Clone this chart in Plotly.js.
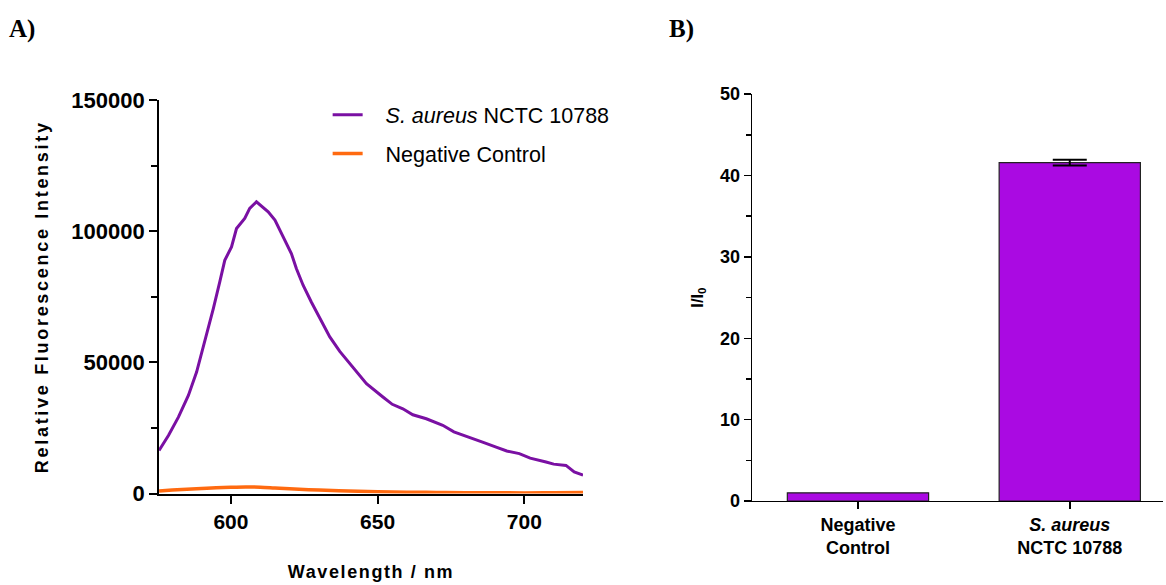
<!DOCTYPE html>
<html><head><meta charset="utf-8">
<script src="https://cdn.plot.ly/plotly-3.0.1.min.js"></script>
<style>
html,body{margin:0;padding:0;background:#fff;}
#chart{width:1166px;height:585px;}
.ytitle{letter-spacing:2.7px;}
.xtitle{letter-spacing:1.6px;}
</style></head>
<body><div id="chart"></div>
<script>
// Panel A: fluorescence spectra
const saureusWavelength = [575.5, 578.7, 582.1, 585.5, 588.3, 591.1, 594, 596.2, 597.9, 600.2, 601.9, 604.7, 606.4, 608.7, 610.5, 612.7, 615, 617.2, 620.6, 622.3, 624.6, 627.4, 630.3, 633.7, 637.1, 641.6, 646.2, 651.8, 655, 658.6, 662, 666.6, 672.2, 676, 681.3, 686, 690.4, 694, 698.3, 702, 707.4, 710, 714.2, 717, 720];
const saureusIntensity = [16400, 22100, 29100, 37400, 46300, 57800, 70500, 80700, 88900, 94000, 101000, 104900, 108700, 111200, 109500, 107400, 104200, 99100, 91500, 85800, 79400, 73000, 66700, 59700, 54200, 48000, 41900, 36800, 34000, 32300, 30000, 28500, 26000, 23500, 21500, 19500, 17700, 16200, 15200, 13500, 12000, 11200, 10700, 8200, 7000];
const controlWavelength = [575.5, 580, 585, 590, 595, 600, 605, 610, 615, 620, 630, 640, 650, 660, 670, 680, 690, 700, 710, 720];
const controlIntensity = [1000, 1300, 1600, 1900, 2200, 2400, 2500, 2400, 2100, 1800, 1300, 1000, 700, 500, 400, 300, 300, 200, 300, 400];

// Panel B: I/I0 bars
const barCategories = ["<b>Negative<br>Control</b>", "<b><i>S. aureus</i><br>NCTC 10788</b>"];
const controlRatio = 1.0;
const saureusRatio = 41.6;
const saureusRatioError = 0.35;

const purple = "#7a10a3";
const orange = "#ff6a10";
const barFill = "#aa0ae2";
const pad = "\u00a0\u00a0\u00a0";

const barStyle = {color: barFill, line: {color: "#222", width: 1.2}};

const traces = [
  {x: saureusWavelength, y: saureusIntensity, type: "scatter", mode: "lines",
   name: pad + "<i>S. aureus</i> NCTC 10788", line: {color: purple, width: 3},
   xaxis: "x", yaxis: "y", legendgroup: "a"},
  {x: controlWavelength, y: controlIntensity, type: "scatter", mode: "lines",
   name: pad + "Negative Control", line: {color: orange, width: 3.5, shape: "spline"},
   xaxis: "x", yaxis: "y", legendgroup: "b"},
  {x: [0], y: [controlRatio], type: "bar", width: 0.667, showlegend: false,
   marker: barStyle, xaxis: "x2", yaxis: "y2"},
  {x: [1], y: [saureusRatio], type: "bar", width: 0.667, showlegend: false,
   marker: barStyle,
   error_y: {type: "data", array: [saureusRatioError], visible: true, color: "#000", thickness: 2, width: 17},
   xaxis: "x2", yaxis: "y2"}
];

const tickFont = {family: "Liberation Sans, Arial, sans-serif", size: 21, color: "#000", weight: "bold"};
const axTitleFont = {family: "Liberation Sans, Arial, sans-serif", size: 18, color: "#000", weight: "bold"};

const layout = {
  width: 1166, height: 585,
  margin: {l: 0, r: 0, t: 0, b: 0},
  paper_bgcolor: "#fff", plot_bgcolor: "#fff",
  showlegend: true,
  barmode: "overlay",
  legend: {x: 0.281, y: 0.839, xanchor: "left", yanchor: "top", tracegroupgap: 8,
           font: {family: "Liberation Sans, Arial, sans-serif", size: 21.5, color: "#000"},
           bgcolor: "rgba(0,0,0,0)"},
  xaxis: {domain: [0.1364, 0.5], range: [575.5, 720], anchor: "y",
          showline: true, linecolor: "#000", linewidth: 2, mirror: false,
          ticks: "outside", ticklen: 8, tickwidth: 2, tickcolor: "#000",
          tickvals: [600, 650, 700], showgrid: false, zeroline: false,
          tickfont: Object.assign({}, tickFont, {size: 21}),
          title: {text: "<b>Wavelength / nm</b>", font: axTitleFont, standoff: 34}},
  yaxis: {domain: [0.1564, 0.829], range: [0, 150000], anchor: "x",
          showline: true, linecolor: "#000", linewidth: 2,
          ticks: "outside", ticklen: 8, tickwidth: 2, tickcolor: "#000",
          dtick: 50000, showgrid: false, zeroline: false, tickformat: "d",
          minor: {dtick: 25000, ticks: "outside", ticklen: 6, tickwidth: 2, tickcolor: "#000", showgrid: false},
          tickfont: Object.assign({}, tickFont, {size: 22}),
          title: {text: "<b>Relative Fluorescence Intensity</b>", font: axTitleFont, standoff: 18}},
  xaxis2: {domain: [0.645, 0.9974], range: [-0.5, 1.44], anchor: "y2",
           showline: true, linecolor: "#000", linewidth: 1.5,
           ticks: "outside", ticklen: 7, tickwidth: 1.5, tickcolor: "#000",
           tickvals: [0, 1], ticktext: barCategories, showgrid: false, zeroline: false,
           tickfont: {family: "Liberation Sans, Arial, sans-serif", size: 18, color: "#000"}},
  yaxis2: {domain: [0.1436, 0.839], range: [0, 50], anchor: "x2",
           showline: true, linecolor: "#000", linewidth: 1.5,
           ticks: "outside", ticklen: 7, tickwidth: 1.5, tickcolor: "#000",
           dtick: 10, showgrid: false, zeroline: false,
           minor: {dtick: 5, ticks: "outside", ticklen: 5, tickwidth: 1.5, tickcolor: "#000", showgrid: false},
           tickfont: {family: "Liberation Sans, Arial, sans-serif", size: 18, color: "#000", weight: "bold"},
           title: {text: "<b>I/I<sub>0</sub></b>", font: {family: "Liberation Sans, Arial, sans-serif", size: 16.5, color: "#000"}, standoff: 12}},
  annotations: [
    {text: "<b>A)</b>", xref: "paper", yref: "paper", x: 7/1166, y: 1 - 29/585, xanchor: "left", yanchor: "middle",
     showarrow: false, font: {family: "Liberation Serif, Times New Roman, serif", size: 25, color: "#000"}},
    {text: "<b>B)</b>", xref: "paper", yref: "paper", x: 667/1166, y: 1 - 29/585, xanchor: "left", yanchor: "middle",
     showarrow: false, font: {family: "Liberation Serif, Times New Roman, serif", size: 25, color: "#000"}}
  ]
};

Plotly.newPlot("chart", traces, layout, {displayModeBar: false, staticPlot: true});
</script></body></html>
